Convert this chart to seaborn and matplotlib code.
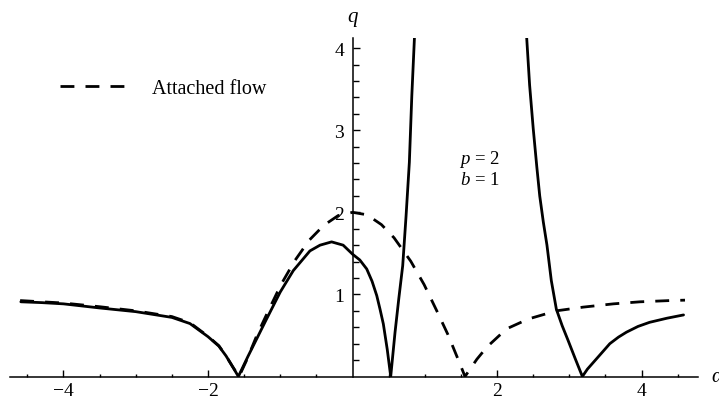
import numpy as np
import pandas as pd
import matplotlib
matplotlib.use("Agg")
import matplotlib.pyplot as plt
import seaborn as sns
from matplotlib.ticker import FixedLocator

# values
solid_a_x = [-4.59, -4.3, -4.0, -3.5, -3.0, -2.5, -2.25, -2.0, -1.85, -1.75, -1.66, -1.58,
             -1.45, -1.32, -1.19, -1.0, -0.82, -0.59, -0.45, -0.29, -0.13, 0.0, 0.1, 0.196,
             0.27, 0.335, 0.38, 0.426, 0.48, 0.528, 0.588, 0.64, 0.694, 0.74, 0.786, 0.82,
             0.856, 0.875]
solid_a_y = [0.91, 0.90, 0.885, 0.835, 0.79, 0.72, 0.645, 0.485, 0.37, 0.25, 0.12, 0.0,
             0.24, 0.47, 0.70, 1.03, 1.29, 1.53, 1.60, 1.64, 1.60, 1.49, 1.42, 1.31,
             1.16, 0.985, 0.82, 0.64, 0.33, 0.0, 0.54, 0.95, 1.35, 1.95, 2.61, 3.42,
             4.12, 4.5]

solid_b_x = [2.395, 2.41, 2.45, 2.50, 2.55, 2.59, 2.64, 2.69, 2.75, 2.82, 2.90, 2.98,
             3.08, 3.18, 3.25, 3.33, 3.45, 3.56, 3.68, 3.79, 3.95, 4.11, 4.35, 4.58]
solid_b_y = [4.4, 4.12, 3.55, 3.02, 2.55, 2.20, 1.88, 1.60, 1.17, 0.82, 0.62, 0.445,
             0.22, 0.0, 0.09, 0.17, 0.29, 0.40, 0.48, 0.54, 0.61, 0.66, 0.71, 0.75]

attached_x = [-4.6, -4.0, -3.5, -3.0, -2.5, -2.25, -2.0, -1.85, -1.75, -1.66, -1.57,
              -1.46, -1.32, -1.16, -0.99, -0.8, -0.6, -0.4, -0.2, 0.0, 0.2, 0.4, 0.574,
              0.805, 0.99, 1.16, 1.32, 1.46, 1.556, 1.72, 1.86, 2.13, 2.43, 2.82, 3.19,
              3.61, 3.98, 4.39, 4.6]
attached_y = [0.925, 0.895, 0.85, 0.80, 0.73, 0.655, 0.49, 0.375, 0.25, 0.12, 0.0,
              0.21, 0.51, 0.81, 1.12, 1.41, 1.66, 1.84, 1.96, 2.0, 1.97, 1.85, 1.69,
              1.405, 1.12, 0.81, 0.51, 0.21, 0.0, 0.21, 0.36, 0.58, 0.70, 0.80, 0.845,
              0.885, 0.91, 0.925, 0.93]

x_major = [-4, -2, 2, 4]
y_major = [1, 2, 3, 4]

sns.set_style("white")
plt.rcParams["font.family"] = ["Liberation Serif", "DejaVu Serif"]
plt.rcParams["mathtext.fontset"] = "custom"
plt.rcParams["mathtext.rm"] = "Liberation Serif"
plt.rcParams["mathtext.it"] = "Liberation Serif:italic"
plt.rcParams["text.color"] = "black"
plt.rcParams["xtick.color"] = "black"
plt.rcParams["ytick.color"] = "black"

fig = plt.figure(figsize=(7.19, 4.02), dpi=100)
ax = fig.add_axes([10 / 719, 24.5 / 402, 688 / 719, 338.2 / 402])

lw = 2.0
sns.lineplot(x=solid_a_x, y=solid_a_y, ax=ax, color="black", lw=lw, sort=False)
sns.lineplot(x=solid_b_x, y=solid_b_y, ax=ax, color="black", lw=lw, sort=False)
sns.lineplot(x=attached_x, y=attached_y, ax=ax, color="black", lw=lw, sort=False,
             linestyle=(0, (5.0, 4.0)), label="Attached flow")

ax.set_xlim(-4.74, 4.78)
ax.set_ylim(0, 4.12)

for s in ["top", "right"]:
    ax.spines[s].set_visible(False)
ax.spines["left"].set_position(("data", 0))
for s in ["left", "bottom"]:
    ax.spines[s].set_linewidth(1.1)
    ax.spines[s].set_color("black")

ax.xaxis.set_major_locator(FixedLocator(x_major))
ax.xaxis.set_minor_locator(FixedLocator([v / 2 for v in range(-9, 10) if v % 4 != 0]))
ax.yaxis.set_major_locator(FixedLocator(y_major))
ax.yaxis.set_minor_locator(FixedLocator([v / 5 for v in range(1, 21) if v % 5 != 0]))
ax.tick_params(which="both", direction="in", bottom=True, left=True, top=False,
               right=False, color="black", width=1.0, labelsize=14, labelcolor="black")
ax.tick_params(axis="x", which="major", length=5, pad=4)
ax.tick_params(axis="x", which="minor", length=2.5)
ax.tick_params(axis="y", which="major", length=5, pad=6)
ax.tick_params(axis="y", which="minor", length=4)
ax.set_xlabel("")
ax.set_ylabel("")
ax.grid(False)

ax.text(0, 4.38, "q", fontsize=15, fontstyle="italic", ha="center", va="center",
        clip_on=False)
ax.text(4.97, 0, "α", fontsize=15, fontstyle="italic", ha="left", va="center",
        clip_on=False)
ax.text(1.76, 2.65, "$p$ = 2", fontsize=13.5, ha="center", va="center")
ax.text(1.76, 2.40, "$b$ = 1", fontsize=13.5, ha="center", va="center")

ax.legend(loc="center left", bbox_to_anchor=(50 / 688, (377.5 - 89) / 338.2),
          frameon=False, fontsize=14.5, handlelength=3.6, handletextpad=0.95,
          borderpad=0, borderaxespad=0, labelcolor="black")

fig.savefig("out.png", dpi=100)
